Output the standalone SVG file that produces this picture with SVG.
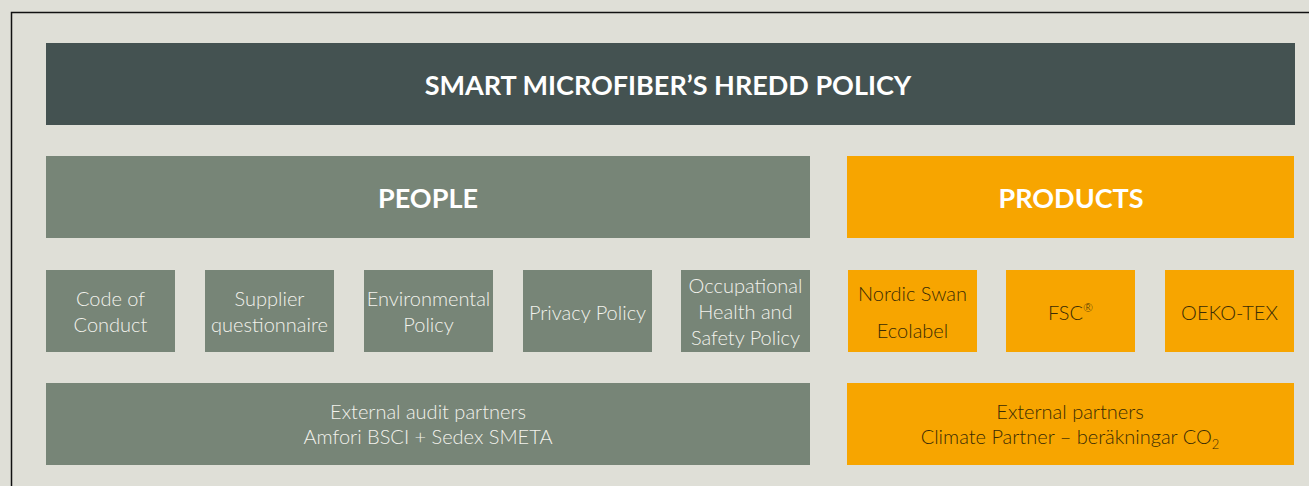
<svg xmlns="http://www.w3.org/2000/svg" width="1309" height="486" viewBox="0 0 1309 486">
<style>
.g{fill:#778577}
.o{fill:#f7a500}
.t{font-family:Lato,"Liberation Sans",sans-serif;font-size:20px;font-weight:300;text-anchor:middle}
.w{fill:#f2f2ec}
.d{fill:#3a2c05}
.h{font-family:Lato,"Liberation Sans",sans-serif;font-size:27px;font-weight:700;text-anchor:middle;fill:#ffffff}
</style>
<rect width="1309" height="486" fill="#dfdfd7"/>
<path d="M11.5 486 V12.5 H1309" fill="none" stroke="#111" stroke-width="1.5"/>
<g id="title"><rect x="46" y="43" width="1249" height="82" fill="#445251"/><text class="h" x="668" y="95" font-size="29">SMART MICROFIBER’S HREDD POLICY</text></g>
<g id="people"><rect class="g" x="46" y="156" width="764" height="82"/><text class="h" x="428" y="208">PEOPLE</text></g>
<g id="products"><rect class="o" x="847" y="156" width="447" height="82"/><text class="h" x="1071" y="208" font-size="28">PRODUCTS</text></g>
<g id="code"><rect class="g" x="46" y="270" width="129" height="82"/><text class="t w" x="110.5" y="306">Code of</text><text class="t w" x="110.5" y="332">Conduct</text></g>
<g id="supplier"><rect class="g" x="205" y="270" width="129" height="82"/><text class="t w" x="269.5" y="306">Supplier</text><text class="t w" x="269.5" y="332">questionnaire</text></g>
<g id="env"><rect class="g" x="364" y="270" width="129" height="82"/><text class="t w" x="428.5" y="306">Environmental</text><text class="t w" x="428.5" y="332">Policy</text></g>
<g id="privacy"><rect class="g" x="523" y="270" width="129" height="82"/><text class="t w" x="587.5" y="320">Privacy Policy</text></g>
<g id="ohs"><rect class="g" x="681" y="270" width="129" height="82"/><text class="t w" x="745.5" y="293">Occupational</text><text class="t w" x="745.5" y="319">Health and</text><text class="t w" x="745.5" y="345">Safety Policy</text></g>
<g id="nordic"><rect class="o" x="848" y="270" width="129" height="82"/><text class="t d" x="912.5" y="301">Nordic Swan</text><text class="t d" x="912.5" y="338">Ecolabel</text></g>
<g id="fsc"><rect class="o" x="1006" y="270" width="129" height="82"/><text class="t d" x="1070.5" y="320">FSC<tspan font-size="12" dy="-8">®</tspan></text></g>
<g id="oeko"><rect class="o" x="1165" y="270" width="129" height="82"/><text class="t d" x="1229.5" y="320">OEKO-TEX</text></g>
<g id="audit"><rect class="g" x="46" y="383" width="764" height="82"/><text class="t w" x="428" y="419">External audit partners</text><text class="t w" x="428" y="444">Amfori BSCI + Sedex SMETA</text></g>
<g id="partners"><rect class="o" x="847" y="383" width="447" height="82"/><text class="t d" x="1070" y="419">External partners</text><text class="t d" x="1070" y="444">Climate Partner – beräkningar CO<tspan font-size="13" dy="5">2</tspan></text></g>
<g id="connectors"/>
</svg>
